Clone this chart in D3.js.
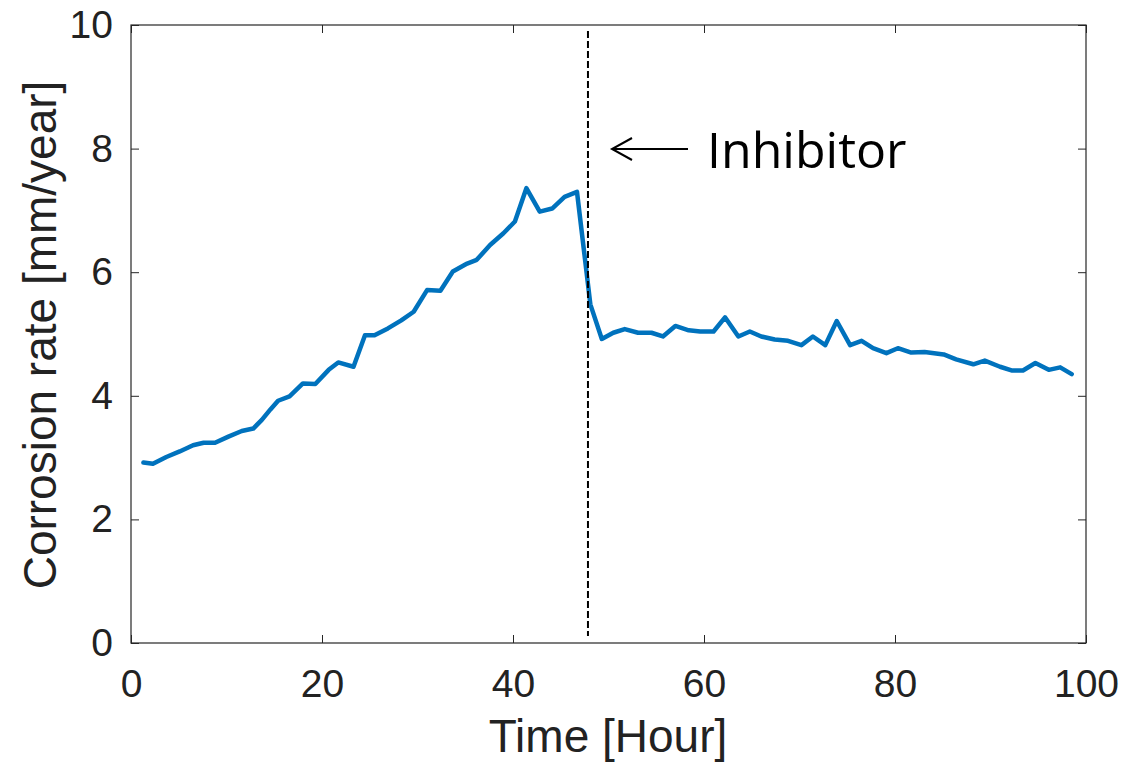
<!DOCTYPE html>
<html>
<head>
<meta charset="utf-8">
<script src="https://cdn.jsdelivr.net/npm/d3@7"></script>
<style>
  html, body { margin: 0; padding: 0; background: #fff; }
  svg { display: block; }
</style>
</head>
<body>
<svg id="chart" width="1125" height="763"></svg>
<script>
const timeHours = [1.3, 2.3, 3.7, 5.1, 6.5, 7.6, 8.8, 10.2, 11.6, 12.8, 13.7, 14.6, 15.4, 16.6, 18.0, 19.3, 20.7, 21.7, 23.3, 24.5, 25.5, 26.9, 28.3, 29.6, 31.0, 32.4, 33.7, 35.2, 36.2, 37.6, 39.0, 40.2, 41.4, 42.8, 44.1, 45.4, 46.7, 48.1, 49.3, 50.5, 51.7, 53.1, 54.5, 55.7, 57.0, 58.4, 59.6, 61.0, 62.2, 63.6, 64.8, 66.0, 67.4, 68.8, 70.2, 71.4, 72.7, 73.9, 75.3, 76.5, 77.7, 79.1, 80.3, 81.7, 83.1, 85.1, 86.4, 88.2, 89.4, 91.0, 92.2, 93.4, 94.7, 96.1, 97.3, 98.5];
const corrosionRate = [2.92, 2.90, 3.01, 3.10, 3.20, 3.24, 3.24, 3.34, 3.43, 3.47, 3.61, 3.78, 3.92, 3.99, 4.20, 4.19, 4.42, 4.54, 4.47, 4.98, 4.98, 5.09, 5.22, 5.36, 5.71, 5.70, 6.01, 6.14, 6.20, 6.44, 6.63, 6.82, 7.36, 6.98, 7.03, 7.22, 7.30, 5.48, 4.92, 5.02, 5.08, 5.02, 5.02, 4.96, 5.13, 5.06, 5.04, 5.04, 5.27, 4.96, 5.04, 4.96, 4.91, 4.89, 4.82, 4.96, 4.82, 5.21, 4.82, 4.89, 4.77, 4.69, 4.77, 4.70, 4.71, 4.67, 4.59, 4.51, 4.57, 4.47, 4.41, 4.41, 4.53, 4.42, 4.46, 4.35];
const xTicks = [0, 20, 40, 60, 80, 100];
const yTicks = [0, 2, 4, 6, 8, 10];
const inhibitorTime = [47.85];
const annotationText = ["Inhibitor"];
const xLabel = "Time [Hour]";
const yLabel = "Corrosion rate [mm/year]";

const svg = d3.select("#chart");
const L = 131, R = 1086, T = 25, B = 643;
const x = d3.scaleLinear().domain([0, 100]).range([L, R]);
const y = d3.scaleLinear().domain([0, 10]).range([B, T]);
const axisColor = "#262626";
const textColor = "#222";
const fontFam = "'Liberation Sans', Arial, Helvetica, sans-serif";
const tickLen = 8;

// axes box
svg.append("rect").attr("x", L).attr("y", T).attr("width", R - L).attr("height", B - T)
  .attr("fill", "none").attr("stroke", axisColor).attr("stroke-width", 1.2);

// bottom axis (ticks inside)
const gx = svg.append("g").attr("transform", `translate(0,${B})`)
  .call(d3.axisBottom(x).tickValues(xTicks).tickSizeInner(-tickLen).tickSizeOuter(0).tickPadding(26));
gx.select(".domain").remove();
gx.selectAll("line").attr("stroke", axisColor);
gx.selectAll("text").attr("font-family", fontFam).attr("font-size", 39).attr("fill", textColor);

// top ticks
svg.append("g").attr("transform", `translate(0,${T})`)
  .call(d3.axisTop(x).tickValues(xTicks).tickSizeInner(-tickLen).tickSizeOuter(0).tickFormat(""))
  .call(g => { g.select(".domain").remove(); g.selectAll("line").attr("stroke", axisColor); });

// left axis
const gy = svg.append("g").attr("transform", `translate(${L},0)`)
  .call(d3.axisLeft(y).tickValues(yTicks).tickSizeInner(-tickLen).tickSizeOuter(0).tickPadding(18));
gy.select(".domain").remove();
gy.selectAll("line").attr("stroke", axisColor);
gy.selectAll("text").attr("font-family", fontFam).attr("font-size", 39).attr("fill", textColor);

// right ticks
svg.append("g").attr("transform", `translate(${R},0)`)
  .call(d3.axisRight(y).tickValues(yTicks).tickSizeInner(-tickLen).tickSizeOuter(0).tickFormat(""))
  .call(g => { g.select(".domain").remove(); g.selectAll("line").attr("stroke", axisColor); });

// axis labels
svg.append("text").attr("x", 608).attr("y", 752)
  .attr("text-anchor", "middle").attr("font-family", fontFam).attr("font-size", 46).attr("fill", textColor)
  .text(xLabel);
svg.append("text").attr("transform", `translate(56,335) rotate(-90)`)
  .attr("text-anchor", "middle").attr("font-family", fontFam).attr("font-size", 46).attr("fill", textColor)
  .text(yLabel);

// data line
const pts = timeHours.map((t, i) => [t, corrosionRate[i]]);
svg.append("path").datum(pts)
  .attr("d", d3.line().x(d => x(d[0])).y(d => y(d[1])))
  .attr("fill", "none").attr("stroke", "#0072BD").attr("stroke-width", 4.5)
  .attr("stroke-linejoin", "round").attr("stroke-linecap", "round");

// inhibitor dashed line
svg.selectAll(".inh").data(inhibitorTime).enter().append("line")
  .attr("x1", d => x(d)).attr("x2", d => x(d)).attr("y1", 31).attr("y2", 636)
  .attr("stroke", "#000").attr("stroke-width", 2).attr("stroke-dasharray", "7,3");

// annotation arrow + text
const ay = 149;
const ax0 = 612, ax1 = 688;
svg.append("line").attr("x1", ax0).attr("x2", ax1).attr("y1", ay).attr("y2", ay)
  .attr("stroke", "#000").attr("stroke-width", 2);
svg.append("path").attr("d", `M${ax0 + 20},${ay - 11} L${ax0},${ay} L${ax0 + 20},${ay + 11}`)
  .attr("fill", "none").attr("stroke", "#000").attr("stroke-width", 2);
svg.selectAll(".ann").data(annotationText).enter().append("text")
  .attr("x", 707).attr("y", 168)
  .attr("font-family", "'Open Sans', 'Noto Sans', sans-serif").attr("font-size", 50).attr("fill", "#000")
  .text(d => d);
</script>
</body>
</html>
